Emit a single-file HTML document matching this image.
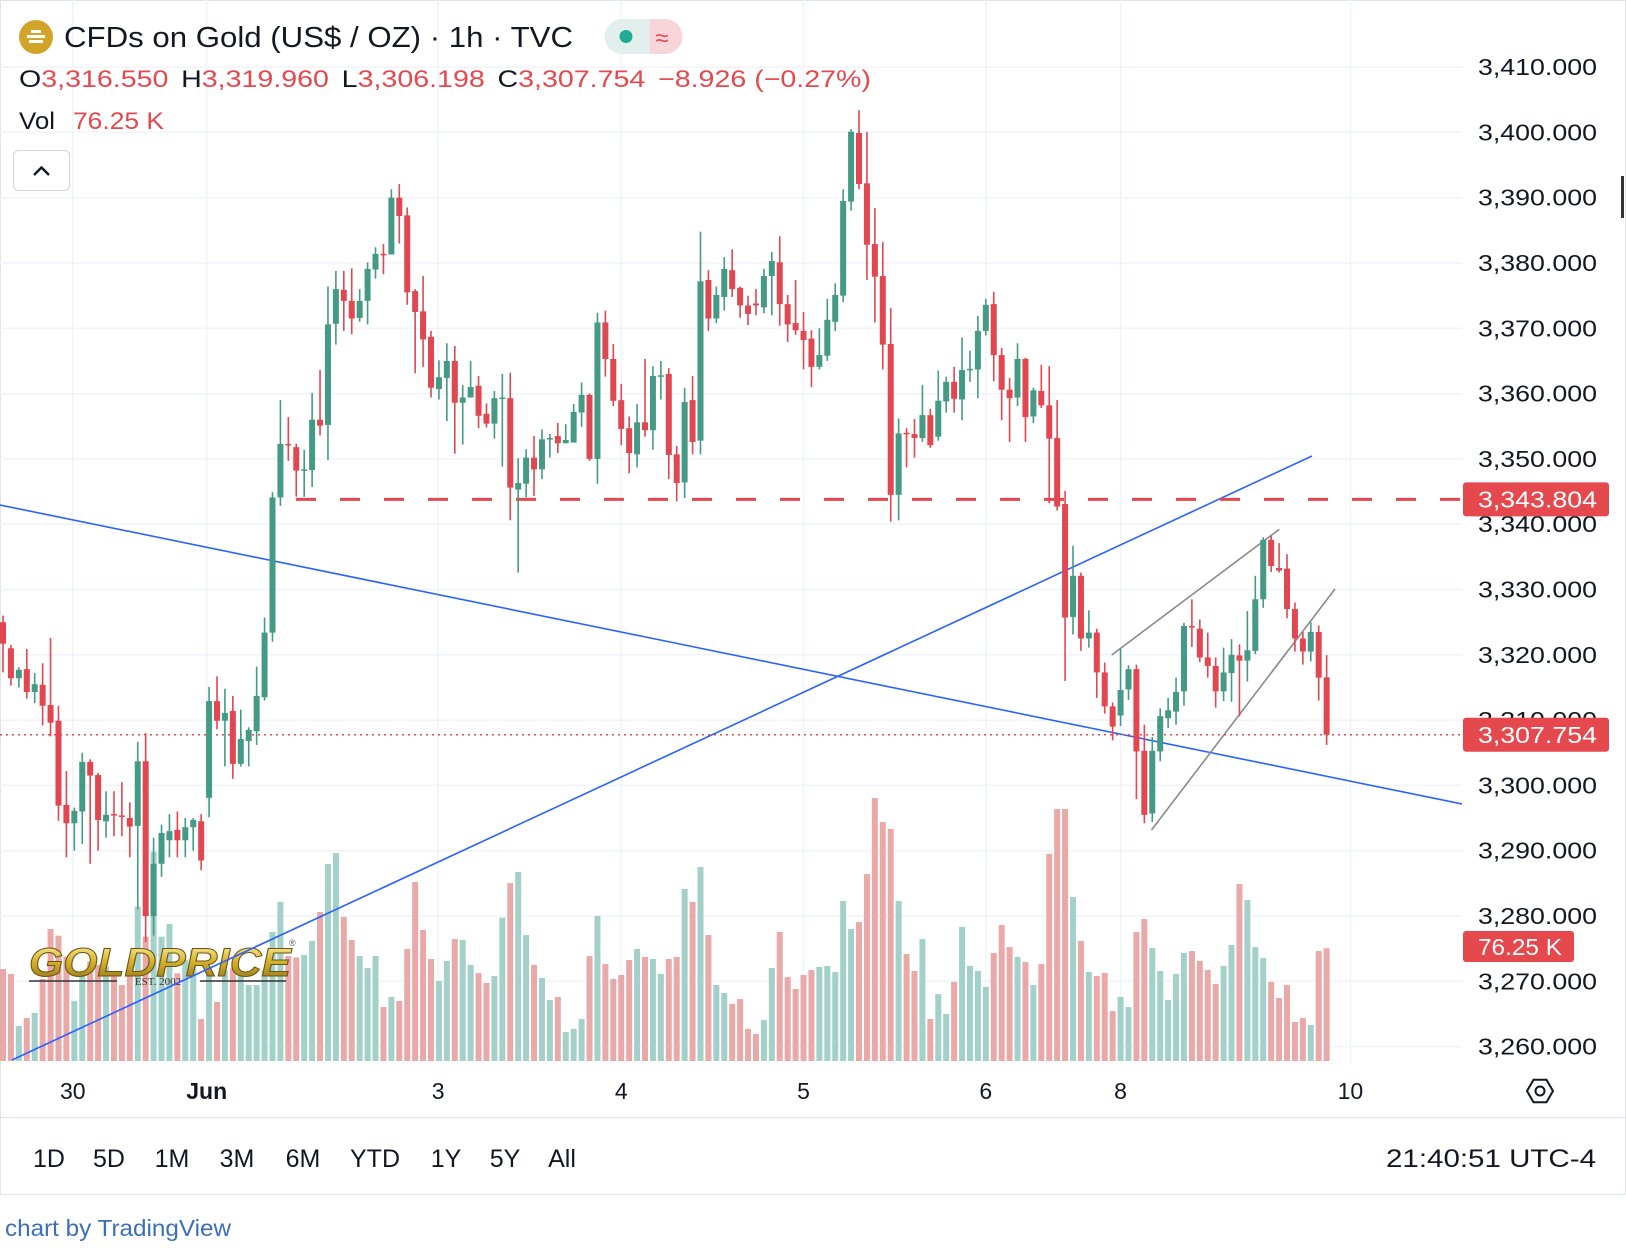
<!DOCTYPE html>
<html><head><meta charset="utf-8"><title>CFDs on Gold 1h</title>
<style>
html,body{margin:0;padding:0;background:#fff;}
body{width:1626px;height:1248px;overflow:hidden;font-family:"Liberation Sans",Arial,sans-serif;position:relative;}
svg{position:absolute;left:0;top:0;}
</style></head>
<body>
<svg id="chart" width="1626" height="1248" viewBox="0 0 1626 1248" xmlns="http://www.w3.org/2000/svg" font-family="Liberation Sans, Arial, sans-serif">
  <defs>
    <linearGradient id="goldGrad" x1="0" y1="0" x2="0" y2="1">
      <stop offset="0" stop-color="#fff6b0"/>
      <stop offset="0.45" stop-color="#d9b430"/>
      <stop offset="1" stop-color="#8a6a10"/>
    </linearGradient>
    <clipPath id="plotClip"><rect x="0" y="0" width="1462" height="1063"/></clipPath>
  </defs>
  <rect x="0.5" y="0.5" width="1625" height="1194" fill="#fff" stroke="#e0e3eb"/>
  <g id="grid"></g>
  <g id="vol" clip-path="url(#plotClip)"></g>
  <g>
    <text x="29" y="976" font-size="40" font-weight="bold" font-style="italic" fill="url(#goldGrad)" stroke="#6b5310" stroke-width="1" textLength="262" lengthAdjust="spacingAndGlyphs">GOLDPRICE</text>
    <text x="289" y="946" font-size="9" fill="#555">®</text>
    <line x1="29" y1="981" x2="117" y2="981" stroke="#333" stroke-width="1.5"/>
    <line x1="200" y1="981" x2="286" y2="981" stroke="#333" stroke-width="1.5"/>
    <text x="158" y="985" font-size="11" font-family="Liberation Serif, serif" fill="#333" text-anchor="middle">EST. 2002</text>
  </g>
  <g id="drawings" clip-path="url(#plotClip)">
    <line x1="0" y1="505" x2="1462" y2="804" stroke="#2962ff" stroke-width="1.6"/>
    <line x1="12" y1="1060" x2="1312" y2="456" stroke="#2962ff" stroke-width="1.6"/>
    <line x1="1111.7" y1="655" x2="1279.3" y2="529.3" stroke="#8a8a8a" stroke-width="1.6"/>
    <line x1="1151.5" y1="830" x2="1335" y2="589" stroke="#8a8a8a" stroke-width="1.6"/>
  </g>
  <g id="levels"></g>
  <g id="candles"></g>
  <g id="yaxis"></g>
  <g id="xaxis"></g>

  <!-- header -->
  <g>
    <circle cx="36" cy="37" r="17" fill="#d2a52a"/>
    <rect x="27" y="35" width="18" height="3" fill="#fff"/><rect x="29" y="40" width="14" height="3" fill="#fff"/><rect x="31" y="30" width="10" height="3" fill="#fff"/>
    <text x="64" y="47" font-size="29" fill="#131722" textLength="509" lengthAdjust="spacingAndGlyphs">CFDs on Gold (US$ / OZ) · 1h · TVC</text>
    <g>
      <path d="M622 19 H650 V54 H622 A17.5 17.5 0 0 1 622 19 Z" fill="#e2efec"/>
      <path d="M650 19 H665 A17.5 17.5 0 0 1 665 54 H650 Z" fill="#f8d4db"/>
      <circle cx="626" cy="36.5" r="6.5" fill="#22ab94"/>
      <text x="662" y="46" font-size="24" fill="#e5484d" text-anchor="middle">≈</text>
    </g>
    <text x="19" y="87" font-size="24" fill="#e5484d" textLength="852" lengthAdjust="spacingAndGlyphs"><tspan fill="#131722">O</tspan>3,316.550 <tspan fill="#131722" dx="4">H</tspan>3,319.960 <tspan fill="#131722" dx="4">L</tspan>3,306.198 <tspan fill="#131722" dx="4">C</tspan>3,307.754 <tspan dx="4">−8.926 (−0.27%)</tspan></text>
    <text x="19" y="129" font-size="24" fill="#131722" textLength="36" lengthAdjust="spacingAndGlyphs">Vol</text>
    <text x="73" y="129" font-size="24" fill="#e5484d" textLength="91" lengthAdjust="spacingAndGlyphs">76.25 K</text>
    <g>
      <rect x="13.5" y="150.5" width="56" height="40" rx="5" fill="#fff" stroke="#d1d4dc"/>
      <path d="M34 175 L41.5 167.5 L49 175" fill="none" stroke="#131722" stroke-width="2.4"/>
    </g>
  </g>

  <!-- bottom bar -->
  <line x1="0" y1="1117.5" x2="1626" y2="1117.5" stroke="#e0e3eb"/>
  <g id="ranges"></g>
  <text x="1596" y="1167" font-size="25" fill="#131722" text-anchor="end" textLength="210" lengthAdjust="spacingAndGlyphs">21:40:51 UTC-4</text>
  <text x="5" y="1236" font-size="23" fill="#3b6fb6" textLength="226" lengthAdjust="spacingAndGlyphs">chart by TradingView</text>
  <rect x="1621" y="176" width="3" height="42" fill="#333"/>
  <g transform="translate(1540,1091)">
    <path d="M-13 0 L-6.5 -11.3 L6.5 -11.3 L13 0 L6.5 11.3 L-6.5 11.3 Z" fill="none" stroke="#131722" stroke-width="2"/>
    <circle r="4.5" fill="none" stroke="#131722" stroke-width="2"/>
  </g>
</svg>
<script>
const opens=[3325,3321,3316.4,3317.8,3314.3,3315.4,3312.3,3309.9,3297,3294.2,3296,3303.6,3301.6,3294.5,3295.6,3295.4,3295,3293.8,3303.7,3280,3288,3291.6,3293.2,3291.6,3293.6,3294.5,3298.1,3312.9,3309.9,3311.4,3303.3,3306.8,3308.3,3313.5,3323.4,3344.1,3352.3,3351.8,3348.3,3348.3,3356,3355.2,3370.7,3375.9,3374.2,3371.6,3374.2,3379,3381.4,3381.3,3390,3387.3,3375.7,3372.6,3368.7,3360.7,3362.4,3365,3358.6,3359.4,3361.2,3356.9,3355.4,3359.3,3359.3,3345.3,3346.2,3350.2,3348.4,3353,3353.5,3352.4,3352.5,3357.1,3359.8,3350,3370.9,3365.3,3359,3354.7,3350.7,3355.6,3354.4,3362.7,3363,3350.7,3346.4,3359,3352.8,3377.4,3371.5,3374.8,3378.9,3376.2,3373.5,3373.8,3373.2,3378,3380.1,3373.7,3370.8,3369.6,3368.4,3364.1,3365.8,3371,3375,3389.4,3399.9,3392.2,3382.9,3378,3367.6,3344.5,3354,3353.8,3353.2,3356.7,3353.4,3358.8,3361.8,3359.1,3363.7,3363.7,3369.6,3373.7,3365.9,3360.6,3359.4,3365.3,3356.5,3360.4,3358.2,3353.2,3343.1,3325.8,3332.1,3322.5,3323.4,3317.3,3312.1,3310.7,3314.7,3317.8,3305.3,3295.7,3305.2,3310.3,3311.3,3314.4,3324.4,3324,3319.6,3318.3,3314.4,3317.2,3319.9,3319.1,3320.6,3328.5,3337.6,3333.3,3333.2,3327,3322.5,3320.5,3323.5,3316.55];
const highs=[3326,3321.5,3318.1,3320.9,3317.2,3318.7,3322.6,3312.2,3302.2,3296.6,3305,3304,3301.9,3299.1,3299.1,3300.5,3297.4,3306.7,3308,3292,3294,3295.6,3296,3295,3295,3295.6,3315.1,3316.7,3314.8,3313.7,3311.6,3308.9,3318.2,3325.7,3344.9,3359,3356.4,3352.3,3351.4,3360.1,3363.6,3376.4,3378.8,3378.8,3379.2,3376,3380.1,3382.4,3382.9,3391.3,3392.1,3388.5,3376,3378,3369.6,3365.1,3367.7,3367.3,3361.3,3365,3362.7,3358.5,3360.4,3363,3363.2,3350.1,3351.5,3353.5,3354.5,3353.8,3355.5,3355.3,3358.4,3361.7,3360,3372.4,3372.7,3367.6,3361.5,3356.5,3358.4,3365.3,3364.2,3365,3363.9,3352,3360.9,3362.7,3384.8,3378.9,3376.4,3380.9,3382.1,3376.4,3375,3376,3379.1,3381.7,3384.1,3375.1,3377.4,3372.5,3369.7,3370,3374.5,3376.9,3391.3,3400.5,3403.4,3400.1,3388.4,3383.2,3373.1,3356.2,3354.7,3356.1,3361.3,3357.7,3363.5,3362.6,3364.1,3368.6,3366.6,3371.9,3374.5,3375.6,3367,3362.4,3367.7,3365.5,3360.9,3364.4,3364.2,3359,3345.1,3336.7,3332.6,3326.8,3324,3318.8,3312.7,3320.9,3318.4,3318.5,3309.3,3307.4,3311.8,3313.4,3316.5,3324.9,3328.5,3325.4,3323.4,3319.6,3321.1,3322.4,3321.6,3326.7,3332.1,3338,3338.2,3337.1,3335.4,3328,3323.5,3325,3324.5,3319.96];
const lows=[3317.3,3315.3,3315,3313.3,3312.6,3309.2,3307.5,3294.6,3289,3290,3291,3288,3290,3292,3292.2,3292.2,3289,3281,3276,3277,3286,3289,3289,3289,3290,3287,3295.1,3308.6,3302.9,3301,3302.9,3302.9,3306.2,3313,3322,3342.8,3349.7,3344.2,3344.2,3345.7,3353.6,3349.8,3367.5,3369.6,3369.1,3371,3370.6,3377.6,3378.3,3381.3,3383,3373.6,3363.1,3364.1,3359.4,3359.1,3355.8,3350.8,3352.2,3359.4,3354.7,3354.8,3353.1,3348.8,3340.6,3332.6,3344.1,3344.3,3346.9,3350.2,3350.9,3352.4,3352.5,3354.9,3349.7,3346.2,3362.6,3358.1,3352.1,3347.8,3348.7,3353.4,3351.4,3359.1,3346.9,3343.5,3344,3350.7,3350.7,3369.6,3370.8,3372.7,3374.8,3371.6,3370.5,3372,3372.3,3372,3370.4,3367.9,3369,3363.7,3361,3363.7,3365,3369.6,3374,3388,3391.3,3377.4,3370.9,3363.7,3340.4,3340.6,3348.7,3350.2,3352.6,3351.7,3352.8,3357.1,3357.1,3355.9,3361.8,3359.3,3368.9,3361.9,3355.9,3352.6,3358.1,3352.6,3355.5,3357.8,3343.2,3342.1,3316,3323.1,3320.6,3321.1,3313.4,3311,3306.9,3309.1,3313.1,3297.9,3294.2,3294.4,3303.7,3308.8,3309.3,3312.2,3321.2,3318.9,3316.5,3311.9,3312.9,3312.8,3310.6,3315.9,3320.1,3327.2,3332.7,3332.6,3325.6,3320.5,3318.5,3319,3313,3306.2];
const closes=[3321.7,3316.4,3317.7,3314.3,3315.5,3312.2,3309.6,3296.9,3294.2,3296.1,3303.6,3301.5,3294.7,3295.5,3295.5,3295.2,3293.7,3303.7,3280,3288,3292.7,3293,3291.6,3293.6,3294.7,3288.5,3312.9,3309.9,3311.1,3303.3,3307.1,3308.5,3313.7,3323.4,3344.1,3352.3,3352.1,3348.2,3348.4,3356,3355.1,3370.6,3376,3374.2,3371.5,3374.2,3379.1,3381.4,3381.3,3390,3387.2,3375.5,3372.5,3368.3,3360.9,3362.5,3365,3358.6,3359.4,3361,3356.6,3355.4,3359.3,3359.4,3345.6,3346.3,3350.2,3348.4,3353,3353.2,3352.4,3352.9,3357.2,3359.8,3350,3370.9,3365.3,3358.9,3354.6,3350.9,3355.6,3354.4,3362.7,3362.8,3350.6,3346.3,3358.7,3352.6,3377.2,3371.5,3375.1,3379.1,3376,3373.5,3372.2,3373.5,3378,3380.3,3373.7,3370.6,3369.7,3368.2,3364.1,3365.9,3371.3,3375.1,3389.5,3400.1,3392.1,3382.8,3377.9,3367.5,3344.5,3353.9,3353.9,3353.2,3356.7,3352.1,3358.9,3361.8,3359.2,3363.6,3363.8,3369.6,3373.6,3365.9,3360.6,3359.3,3365.3,3356.4,3360.5,3358.2,3353.1,3342.7,3325.7,3332.1,3322.5,3323.4,3317.3,3312.1,3309,3314.6,3317.8,3305.2,3295.5,3305.3,3310.6,3311.5,3314.3,3324.4,3324.2,3319.6,3318.3,3314.4,3317.3,3320,3319.1,3320.7,3328.5,3337.6,3333.6,3332.9,3327,3322.5,3320.5,3323.5,3316.5,3307.75];
const volumes=[62.2,58.9,23.7,29.1,32.5,55.5,89.3,84.8,70.6,40.6,59.8,67.2,65,63.8,58.9,51.4,61.6,104.4,84.1,141.6,84.1,92.7,59.3,68.3,75.1,28.4,63.8,39.9,61.1,62.7,58.9,51.4,51.4,61.1,87.3,107.6,71,70.1,71.7,81.2,100.8,133.3,140.7,97.4,81.9,71,62.9,71,36.5,43.3,40.6,75.8,121.1,88.6,69,54.1,67.7,82.5,81.9,65,59.5,52.8,57.5,97,120.4,127.9,85.2,65,56.2,41.3,43.3,19.6,21.7,28.4,71,98.1,65.6,55.5,58.2,68.3,75.8,70.4,69,58.9,69,70.4,116.4,107.6,131.3,85.2,51.4,46,38.6,41.9,21.7,18.3,27.7,62.9,87.3,56.8,48.7,58.2,61.6,63.6,64.3,60.2,108.3,89.3,94,126.5,177.9,161.7,157,108.3,72.4,60.9,82.5,28.4,45.3,31.8,53.5,90.7,64.3,60.9,50.1,73.1,92,77.1,70.4,67,51.4,65.6,140.1,170.5,170.5,111,81.2,60.2,57.5,59.5,33.8,43.3,36.5,87.3,96.1,76.5,60.9,41.3,58.9,73.1,74.4,67.7,61.6,52.1,64.3,78.5,119.8,108.9,77.1,69.7,53.5,42.6,51.4,26.4,29.1,24.4,74.4,76.25];
const priceTicks=[3410,3400,3390,3380,3370,3360,3350,3340,3330,3320,3310,3300,3290,3280,3270,3260];
const timeLabels=["30","Jun","3","4","5","6","8","10"];
const timeLabelBars=[8.8,25.7,54.9,78,101,124,141,170];
const rangeLabels=["1D","5D","1M","3M","6M","YTD","1Y","5Y","All"];
const lastPrice=3307.754;
const alertPrice=3343.804;
const lastVolumeText="76.25 K";

const NS="http://www.w3.org/2000/svg";
const UP="#449a84", DOWN="#e04750", VUP="#a3d1c9", VDOWN="#eaa9a9";
function xScale(i){return 3+7.926*i;}
function yScale(p){return 197.7+(3390-p)*6.53;}
function vScale(v){return 1061-v*1.478;}
function fmt(p){return p.toLocaleString("en-US",{minimumFractionDigits:3,maximumFractionDigits:3});}
function mk(tag,attrs,parent){const e=document.createElementNS(NS,tag);for(const k in attrs)e.setAttribute(k,attrs[k]);parent.appendChild(e);return e;}

const grid=document.getElementById("grid");
priceTicks.forEach(p=>{
  const l=mk("line",{x1:0,x2:1462,y1:yScale(p),y2:yScale(p),stroke:"#f0f3fa","stroke-width":1.5},grid);
  
  
});
timeLabelBars.forEach(b=>{
  const l=mk("line",{x1:xScale(b),x2:xScale(b),y1:0,y2:1063,stroke:"#f0f3fa","stroke-width":1.5},grid);
  
  
});

const vol=document.getElementById("vol");
volumes.forEach((v,i)=>{
  const up=closes[i]>=opens[i];
  const r=mk("rect",{x:xScale(i)-3,y:vScale(v),width:6,height:1061-vScale(v),fill:up?VUP:VDOWN},vol);
  
  
});

const lev=document.getElementById("levels");
const dash=mk("line",{x1:296,x2:1462,y1:yScale(alertPrice),y2:yScale(alertPrice),stroke:"#e5484d","stroke-width":3,"stroke-dasharray":"20 24"},lev);


const dot=mk("line",{x1:0,x2:1462,y1:yScale(lastPrice),y2:yScale(lastPrice),stroke:"#e5484d","stroke-width":1.5,"stroke-dasharray":"2 4"},lev);



const cg=document.getElementById("candles");
opens.forEach((o,i)=>{
  const c=closes[i],up=c>=o,col=up?UP:DOWN,x=xScale(i);
  const g=mk("g",{},cg);
  
  
  mk("rect",{x:x-0.8,y:yScale(highs[i]),width:1.6,height:Math.max(1,yScale(lows[i])-yScale(highs[i])),fill:col},g);
  const top=yScale(Math.max(o,c)),bot=yScale(Math.min(o,c));
  mk("rect",{x:x-3,y:top,width:6,height:Math.max(1.5,bot-top),fill:col},g);
});

const ya=document.getElementById("yaxis");
priceTicks.forEach(p=>{
  const t=mk("text",{x:1478,y:yScale(p)+8,"font-size":23,fill:"#131722",textLength:119,lengthAdjust:"spacingAndGlyphs"},ya);
  t.textContent=fmt(p);
  
  
});
function tag(price,text,name,w){
  const y=yScale(price);
  const g=mk("g",{},ya);
  
  
  mk("rect",{x:1463,y:y-17,width:w,height:34,rx:3,fill:"#e5484d"},g);
  const t=mk("text",{x:1478,y:y+8,"font-size":23,fill:"#fff",textLength:119,lengthAdjust:"spacingAndGlyphs"},g);
  t.textContent=text;
}
tag(alertPrice,fmt(alertPrice),"alert-price-tag",146);
tag(lastPrice,fmt(lastPrice),"last-price-tag",146);
{
  const g=mk("g",{},ya);
  
  
  mk("rect",{x:1463,y:931,width:111,height:31,rx:3,fill:"#e5484d"},g);
  const t=mk("text",{x:1478,y:955,"font-size":23,fill:"#fff",textLength:84,lengthAdjust:"spacingAndGlyphs"},g);
  t.textContent=lastVolumeText;
}

const xa=document.getElementById("xaxis");
timeLabels.forEach((s,k)=>{
  const t=mk("text",{x:xScale(timeLabelBars[k]),y:1099,"font-size":23,fill:"#131722","text-anchor":"middle","font-weight":s==="Jun"?"bold":"normal"},xa);
  t.textContent=s;
  
  
});

const rg=document.getElementById("ranges");
const rangeX=[49,109,172,237,303,375,446,505,562];
rangeLabels.forEach((s,k)=>{
  const t=mk("text",{x:rangeX[k],y:1167,"font-size":25,fill:"#131722","text-anchor":"middle"},rg);
  t.textContent=s;
  
  
});
</script>
</body></html>
